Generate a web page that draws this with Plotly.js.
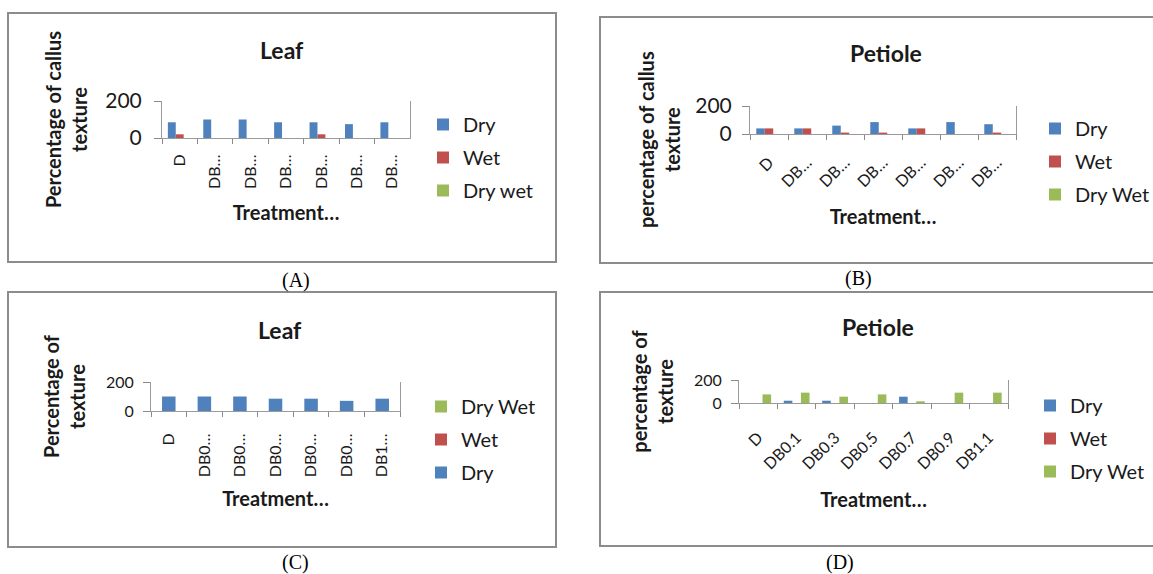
<!DOCTYPE html>
<html><head><meta charset="utf-8">
<script src="https://cdn.plot.ly/plotly-3.0.1.min.js"></script>
<style>html,body{margin:0;padding:0;background:#fff}#chart{width:1153px;height:574px}</style>
</head><body><div id="chart"></div>
<script>
// ---- data ----
const categories = ['D','DB0.1','DB0.3','DB0.5','DB0.7','DB0.9','DB1.1'];
const ticksA = ['D','DB…','DB…','DB…','DB…','DB…','DB…'];
const ticksB = ['D','DB…','DB…','DB…','DB…','DB…','DB…'];
const ticksC = ['D','DB0…','DB0…','DB0…','DB0…','DB0…','DB1…'];
const ticksD = ['D','DB0.1','DB0.3','DB0.5','DB0.7','DB0.9','DB1.1'];
const yTicks = [0, 200];

const leafA_dry    = [85,100,100,85,85,75,85];
const leafA_wet    = [20,0,0,0,20,0,0];
const leafA_drywet = [0,0,0,0,0,0,0];

const petioleB_dry    = [40,40,60,85,40,85,70];
const petioleB_wet    = [40,40,10,10,40,0,10];
const petioleB_drywet = [0,0,0,0,0,0,0];

const leafC_dry    = [100,100,100,85,85,70,85];
const leafC_wet    = [0,0,0,0,0,0,0];
const leafC_drywet = [0,0,0,0,0,0,0];

const petioleD_dry    = [0,20,20,0,55,0,0];
const petioleD_wet    = [0,0,0,0,0,0,0];
const petioleD_drywet = [75,90,55,75,15,90,90];

// ---- styling ----
const W = 1153, H = 574;
const fx = x => x / W;
const fy = y => 1 - y / H;
const BLUE = '#4F81BD', RED = '#C0504D', GREEN = '#9BBB59';
const FONT = 'Lato, "Open Sans", sans-serif';
const TXT = '#1a1a1a';

function bar(name, y, color, xa, ya, leg, grp, extra) {
  return Object.assign({
    type: 'bar', name: name, x: categories, y: y,
    xaxis: xa, yaxis: ya, legend: leg, legendgroup: grp,
    marker: {color: color}, hoverinfo: 'skip'
  }, extra || {});
}

const cStyle = {offsetgroup: 'c', width: 0.38};
const data = [
  bar('Dry', leafA_dry, BLUE, 'x', 'y', 'legend', 'a1'),
  bar('Wet', leafA_wet, RED, 'x', 'y', 'legend', 'a2'),
  bar('Dry wet', leafA_drywet, GREEN, 'x', 'y', 'legend', 'a3'),
  bar('Dry', petioleB_dry, BLUE, 'x2', 'y2', 'legend2', 'b1'),
  bar('Wet', petioleB_wet, RED, 'x2', 'y2', 'legend2', 'b2'),
  bar('Dry Wet', petioleB_drywet, GREEN, 'x2', 'y2', 'legend2', 'b3'),
  bar('Dry', leafC_dry, BLUE, 'x3', 'y3', 'legend3', 'c1', Object.assign({legendrank: 3}, cStyle)),
  bar('Wet', leafC_wet, RED, 'x3', 'y3', 'legend3', 'c2', Object.assign({legendrank: 2}, cStyle)),
  bar('Dry Wet', leafC_drywet, GREEN, 'x3', 'y3', 'legend3', 'c3', Object.assign({legendrank: 1}, cStyle)),
  bar('Dry', petioleD_dry, BLUE, 'x4', 'y4', 'legend4', 'd1'),
  bar('Wet', petioleD_wet, RED, 'x4', 'y4', 'legend4', 'd2'),
  bar('Dry Wet', petioleD_drywet, GREEN, 'x4', 'y4', 'legend4', 'd3')
];

function xax(domL, domR, anchor, ticktext, angle, labelOff, titleOff) {
  return {
    domain: [fx(domL), fx(domR)], anchor: anchor, type: 'category',
    tickmode: 'array', tickvals: categories, ticktext: ticktext, tickangle: angle,
    tickson: 'boundaries', ticks: 'outside', ticklen: 5, tickcolor: '#8a8a8a',
    ticklabelstandoff: labelOff,
    showline: true, linecolor: '#9a9a9a', linewidth: 1, showgrid: false,
    tickfont: {family: FONT, size: 16, color: TXT},
    automargin: true,
    title: {text: 'Treatment…', standoff: titleOff,
            font: {family: FONT, size: 20, color: TXT, weight: 'bold'}},
    fixedrange: true
  };
}
function yax(top, bot, anchor, title, tsize, labelOff, titleOff) {
  return {
    domain: [fy(bot), fy(top)], anchor: anchor, range: [0, 200],
    tickmode: 'array', tickvals: yTicks, ticks: 'outside', ticklen: 7, tickcolor: '#8a8a8a',
    ticklabelstandoff: labelOff,
    showline: true, linecolor: '#9a9a9a', linewidth: 1, mirror: true,
    showgrid: true, gridcolor: '#8a8a8a', gridwidth: 2, zeroline: false,
    tickfont: {family: FONT, size: tsize, color: TXT},
    automargin: true,
    title: {text: title, standoff: titleOff,
            font: {family: FONT, size: 20, color: TXT, weight: 'bold'}},
    fixedrange: true
  };
}
function leg(x, y) {
  return {
    x: fx(x), y: fy(y), xanchor: 'left', yanchor: 'top',
    font: {family: FONT, size: 20, color: TXT}, tracegroupgap: 4,
    traceorder: 'grouped', bgcolor: 'rgba(0,0,0,0)', itemwidth: 30
  };
}
function panelTitle(text, x, y) {
  return {text: text, x: fx(x), y: fy(y), xref: 'paper', yref: 'paper', showarrow: false,
    xanchor: 'center', yanchor: 'middle', font: {family: FONT, size: 23, color: TXT, weight: 'bold'}};
}
function label(text, x, y) {
  return {text: text, x: fx(x), y: fy(y), xref: 'paper', yref: 'paper', showarrow: false,
    xanchor: 'center', yanchor: 'middle', font: {family: '"Liberation Serif", serif', size: 20, color: '#000'}};
}
function border(x0, y0, x1, y1) {
  return {type: 'rect', xref: 'paper', yref: 'paper', x0: fx(x0), x1: fx(x1), y0: fy(y1), y1: fy(y0),
    line: {color: '#8c8c8c', width: 2}, fillcolor: 'rgba(0,0,0,0)', layer: 'below'};
}

const layout = {
  width: W, height: H, margin: {l: 0, r: 0, t: 0, b: 0, autoexpand: false},
  paper_bgcolor: '#fff', plot_bgcolor: '#fff',
  barmode: 'group', bargap: 0.33, bargroupgap: 0,
  font: {family: FONT, color: TXT},
  xaxis:  xax(162, 410, 'y',  ticksA, -90, 9, 18),
  yaxis:  yax(101, 138, 'x',  'Percentage of callus<br>texture', 21, 8, 12),
  xaxis2: xax(750, 1016, 'y2', ticksB, -45, 12, 20),
  yaxis2: yax(106, 134, 'x2', '', 21, 6, 12),
  xaxis3: xax(151, 400, 'y3', ticksC, -90, 15, 15),
  yaxis3: yax(382, 411, 'x3', 'Percentage of<br>texture', 16, 6, 14),
  xaxis4: xax(739, 1008, 'y4', ticksD, -45, 18, 21),
  yaxis4: yax(380, 403, 'x4', 'percentage of<br>texture', 16, 6, 14),
  legend:  leg(423, 105),
  legend2: leg(1035, 109),
  legend3: leg(421, 387),
  legend4: leg(1030, 386),
  annotations: [
    panelTitle('Leaf', 282, 50),
    panelTitle('Petiole', 886, 53),
    panelTitle('Leaf', 280, 330),
    panelTitle('Petiole', 878, 327),
    {text: 'percentage of callus<br>texture', textangle: -90, x: fx(659), y: fy(140),
     xref: 'paper', yref: 'paper', showarrow: false, xanchor: 'center', yanchor: 'middle',
     font: {family: FONT, size: 20, color: TXT, weight: 'bold'}},
    label('(A)', 296, 280),
    label('(B)', 858, 278),
    label('(C)', 295, 562),
    label('(D)', 840, 562)
  ],
  shapes: [
    border(8, 13, 556, 262),
    border(600, 17, 1160, 263),
    border(8, 292, 556, 547),
    border(600, 292, 1160, 546)
  ],
  showlegend: true
};

Plotly.newPlot('chart', data, layout, {staticPlot: true, displayModeBar: false});
</script>
</body></html>
